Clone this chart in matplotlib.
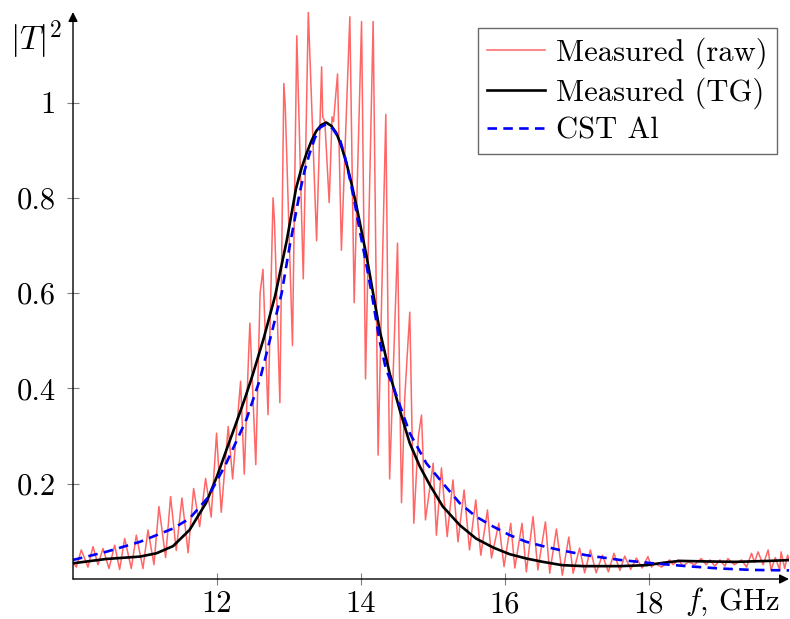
import numpy as np
import matplotlib
matplotlib.use('Agg')
import matplotlib.pyplot as plt

plt.rcParams['font.family'] = 'serif'
plt.rcParams['font.serif'] = ['cmr10']
plt.rcParams['mathtext.fontset'] = 'cm'
plt.rcParams['axes.formatter.use_mathtext'] = True

# measured raw |T|^2 (read at the extrema of the ripple)
raw_f = [10.00, 10.046, 10.115, 10.208, 10.278, 10.347, 10.417, 10.50, 10.579, 10.648,
         10.718, 10.81, 10.88, 10.972, 11.042, 11.125, 11.194, 11.287, 11.356, 11.435,
         11.514, 11.60, 11.676, 11.76, 11.843, 11.92, 11.995, 12.06, 12.157, 12.218,
         12.329, 12.38, 12.44, 12.458, 12.54, 12.60, 12.64, 12.71, 12.78, 12.80,
         12.875, 12.93, 12.95, 13.05, 13.11, 13.20, 13.27, 13.385, 13.455, 13.47,
         13.50, 13.56, 13.60, 13.62, 13.676, 13.73, 13.847, 13.907, 14.01, 14.065,
         14.171, 14.24, 14.347, 14.40, 14.51, 14.565, 14.61, 14.68, 14.736, 14.80,
         14.843, 14.898, 15.005, 15.05, 15.12, 15.20, 15.28, 15.35, 15.435, 15.51,
         15.597, 15.667, 15.76, 15.815, 15.917, 15.99, 16.083, 16.14, 16.24, 16.30,
         16.393, 16.46, 16.565, 16.625, 16.718, 16.80, 16.89, 16.95, 17.04, 17.11,
         17.19, 17.27, 17.357, 17.44, 17.518, 17.60, 17.667, 17.75, 17.83, 17.91,
         17.99, 18.04, 18.08, 18.18, 18.29, 18.34, 18.41, 18.48, 18.55, 18.64,
         18.73, 18.80, 18.85, 18.92, 18.99, 19.06, 19.10, 19.19, 19.29, 19.36,
         19.43, 19.47, 19.52, 19.59, 19.66, 19.70, 19.76, 19.82, 19.84, 19.89,
         19.93, 19.97]
raw_t = [0.035, 0.025, 0.061, 0.025, 0.068, 0.030, 0.064, 0.022, 0.071, 0.020,
         0.085, 0.022, 0.092, 0.022, 0.103, 0.030, 0.152, 0.045, 0.173, 0.060,
         0.170, 0.055, 0.190, 0.110, 0.211, 0.130, 0.306, 0.140, 0.320, 0.210,
         0.415, 0.220, 0.470, 0.537, 0.240, 0.600, 0.650, 0.345, 0.800, 0.750,
         0.370, 1.040, 0.990, 0.490, 1.140, 0.630, 1.190, 0.710, 1.075, 0.970,
         0.960, 0.790, 0.970, 0.960, 1.060, 0.690, 1.180, 0.580, 1.170, 0.420,
         1.170, 0.260, 0.975, 0.210, 0.705, 0.160, 0.380, 0.560, 0.117, 0.300,
         0.344, 0.124, 0.243, 0.092, 0.233, 0.089, 0.208, 0.078, 0.187, 0.061,
         0.166, 0.050, 0.145, 0.044, 0.117, 0.026, 0.117, 0.023, 0.117, 0.015,
         0.131, 0.019, 0.120, 0.012, 0.105, 0.008, 0.088, 0.012, 0.065, 0.013,
         0.061, 0.013, 0.050, 0.015, 0.054, 0.018, 0.048, 0.020, 0.044, 0.023,
         0.047, 0.025, 0.033, 0.025, 0.040, 0.030, 0.040, 0.027, 0.036, 0.030,
         0.043, 0.030, 0.040, 0.027, 0.040, 0.027, 0.043, 0.030, 0.040, 0.025,
         0.054, 0.035, 0.057, 0.030, 0.061, 0.019, 0.045, 0.019, 0.057, 0.022,
         0.050, 0.030]

# measured, time-gated
tg_f = [10.0, 10.46, 10.93, 11.16, 11.39, 11.62, 11.85, 12.0, 12.13, 12.25,
        12.38, 12.5, 12.65, 12.81, 12.97, 13.1, 13.175, 13.25, 13.315, 13.38,
        13.45, 13.52, 13.59, 13.66, 13.73, 13.8, 13.87, 13.94, 14.01, 14.08,
        14.17, 14.26, 14.4, 14.54, 14.68, 14.82, 14.96, 15.14, 15.375, 15.6,
        15.84, 16.07, 16.3, 16.53, 16.8, 17.1, 17.6, 17.97, 18.2, 18.43,
        18.75, 19.2, 19.68, 20.0]
tg_t = [0.033, 0.042, 0.047, 0.054, 0.069, 0.103, 0.160, 0.215, 0.270, 0.320,
        0.375, 0.430, 0.505, 0.595, 0.710, 0.820, 0.862, 0.895, 0.920, 0.940,
        0.953, 0.958, 0.951, 0.936, 0.908, 0.873, 0.830, 0.782, 0.730, 0.677,
        0.600, 0.523, 0.432, 0.355, 0.285, 0.236, 0.197, 0.152, 0.113, 0.085,
        0.066, 0.052, 0.043, 0.036, 0.029, 0.027, 0.027, 0.029, 0.034, 0.038,
        0.037, 0.036, 0.038, 0.040]

# CST simulation, aluminium
cst_f = [10.0, 10.46, 10.93, 11.39, 11.62, 11.87, 12.13, 12.41, 12.6, 12.75,
         12.9, 13.01, 13.15, 13.22, 13.29, 13.36, 13.43, 13.52, 13.61, 13.71,
         13.78, 13.85, 13.92, 13.99, 14.07, 14.15, 14.26, 14.35, 14.45, 14.68,
         14.91, 15.14, 15.375, 15.6, 15.84, 16.07, 16.3, 16.53, 16.76, 17.13,
         17.6, 18.06, 18.52, 18.99, 19.45, 20.0]
cst_t = [0.040, 0.057, 0.078, 0.106, 0.127, 0.170, 0.243, 0.335, 0.420, 0.510,
         0.600, 0.698, 0.810, 0.858, 0.894, 0.925, 0.947, 0.955, 0.945, 0.922,
         0.885, 0.838, 0.785, 0.727, 0.665, 0.600, 0.500, 0.440, 0.404, 0.306,
         0.243, 0.201, 0.159, 0.131, 0.110, 0.092, 0.078, 0.069, 0.061, 0.050,
         0.040, 0.033, 0.027, 0.022, 0.019, 0.018]

xticks = [12, 14, 16, 18]
yticks = [0.2, 0.4, 0.6, 0.8, 1.0]
ytick_labels = ['0.2', '0.4', '0.6', '0.8', '1']

fig = plt.figure(figsize=(7.9, 6.19), dpi=100)
ax = fig.add_axes([73/790, 40/619, 716/790, 567/619])

ax.plot(raw_f, raw_t, color='#ff6666', lw=1.1, label='Measured (raw)')
ax.plot(tg_f, tg_t, color='black', lw=1.9, label='Measured (TG)')
ax.plot(cst_f, cst_t, color='blue', lw=1.9, ls=(0, (3.6, 2.4)), label='CST Al')

ax.set_xlim(10, 19.95)
ax.set_ylim(0, 1.19)
ax.set_xticks(xticks)
ax.set_xticklabels([str(t) for t in xticks])
ax.set_yticks(yticks)
ax.set_yticklabels(ytick_labels)
ax.tick_params(direction='inout', length=9, width=0.8, color='gray',
               labelsize=22)
ax.tick_params(axis='x', pad=4)
ax.tick_params(axis='y', pad=8)

# pgfplots style axis lines with arrows
for side in ['top', 'right', 'left', 'bottom']:
    ax.spines[side].set_visible(False)
arrow = dict(arrowstyle='-|>', color='black', lw=1.0, mutation_scale=14,
             shrinkA=0, shrinkB=0)
ax.annotate('', xy=(1.0, 0), xytext=(0, 0), xycoords='axes fraction',
            arrowprops=arrow, annotation_clip=False)
ax.annotate('', xy=(0, 1.0), xytext=(0, 0), xycoords='axes fraction',
            arrowprops=arrow, annotation_clip=False)

ax.text(0.987, -0.012, r'$f$, GHz', transform=ax.transAxes, ha='right', va='top',
        fontsize=22)
ax.text(-0.016, 0.988, r'$|T|^2$', transform=ax.transAxes, ha='right', va='top',
        fontsize=24)

leg = ax.legend(loc='upper right', bbox_to_anchor=(0.983, 0.972), fontsize=22,
                frameon=True, fancybox=False, borderaxespad=0, handlelength=1.9,
                handletextpad=0.35, labelspacing=0.28, borderpad=0.3)
leg.get_frame().set_edgecolor('#444444')
leg.get_frame().set_linewidth(1.0)

fig.savefig('out.png', dpi=100)
